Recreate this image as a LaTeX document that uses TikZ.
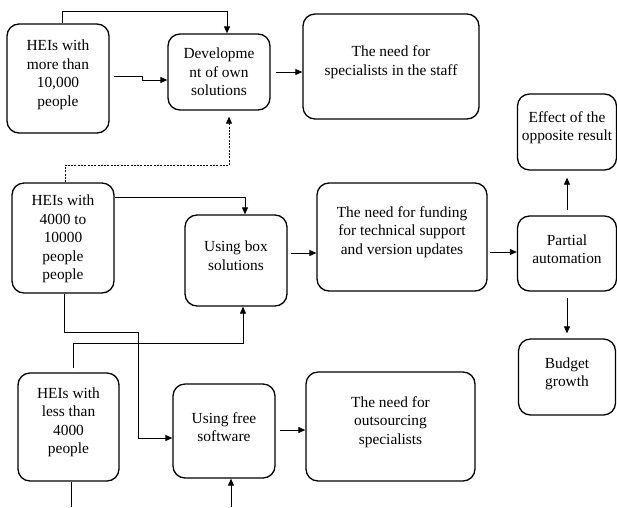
\documentclass[tikz,border=0pt]{standalone}
\usepackage{fontspec}
\setmainfont{Liberation Serif}
\usetikzlibrary{arrows.meta}
\begin{document}
\begin{tikzpicture}[x=1pt,y=-1pt,
  box/.style={draw, line width=1.3pt, rounded corners=12pt, inner sep=0pt},
  txt/.style={align=center, inner sep=0pt, font=\fontsize{15.4}{18.5}\selectfont},
  conn/.style={line width=0.8pt},
  arr/.style={conn, -{Triangle[length=7pt,width=6pt]}},
  dots/.style={arr, dash pattern=on 2pt off 1.3pt}]
\useasboundingbox (0,0) rectangle (617,507);

% boxes
\node[box, minimum width=102pt, minimum height=109pt] (b1) at (58,78.5) {};
\node[box, minimum width=102pt, minimum height=76pt] (b2) at (219,72) {};
\node[box, minimum width=176pt, minimum height=105pt] (b3) at (391,66.5) {};
\node[box, minimum width=99pt, minimum height=76pt] (b4) at (567,132) {};
\node[box, minimum width=102pt, minimum height=110pt] (b5) at (63,238) {};
\node[box, minimum width=102pt, minimum height=91pt] (b6) at (236,260.5) {};
\node[box, minimum width=170pt, minimum height=108pt] (b7) at (402,237) {};
\node[box, minimum width=99pt, minimum height=75pt] (b8) at (567,253.5) {};
\node[box, minimum width=97pt, minimum height=76pt] (b9) at (567,377) {};
\node[box, minimum width=169pt, minimum height=109pt] (b10) at (390.5,426.5) {};
\node[box, minimum width=101pt, minimum height=108pt] (b11) at (68.5,427) {};
\node[box, minimum width=102pt, minimum height=94pt] (b12) at (224,431) {};

% texts
\node[txt] (t1) at ([yshift=3.5pt]b1.center) {HEIs with\\more than\\10,000\\people};
\node[txt] (t2) at (b2.center) {Developme\\nt of own\\solutions};
\node[txt] (t3) at ([yshift=4.5pt]b3.center) {The need for\\specialists in the staff};
\node[txt] (t4) at ([yshift=4.5pt]b4.center) {Effect of the\\opposite result};
\node[txt] (t5) at ([yshift=-1pt]b5.center) {HEIs with\\4000 to\\10000\\people\\people};
\node[txt] (t6) at ([yshift=5pt]b6.center) {Using box\\solutions};
\node[txt] (t7) at ([yshift=5pt]b7.center) {The need for funding\\for technical support\\and version updates};
\node[txt] (t8) at ([yshift=4.5pt]b8.center) {Partial\\automation};
\node[txt] (t9) at ([yshift=3pt]b9.center) {Budget\\growth};
\node[txt] (t10) at ([yshift=4.5pt]b10.center) {The need for\\outsourcing\\specialists};
\node[txt] (t11) at ([yshift=4.5pt]b11.center) {HEIs with\\less than\\4000\\people};
\node[txt] (t12) at ([yshift=4pt]b12.center) {Using free\\software};

% helper points
\coordinate (p6) at ([xshift=3pt,yshift=7.5pt]b6.east);
\coordinate (p7) at ([xshift=2pt,yshift=-15pt]b7.east);
\coordinate (p12) at ([xshift=4pt,yshift=1pt]b12.east);
\coordinate (e1) at (71,507);
\coordinate (e2) at (231,507);

% connectors
\draw[arr] ([xshift=4pt]b1.north) -- ++(0,-12) -| ([xshift=8pt]b2.north);
\draw[arr] ([xshift=4pt,yshift=2.5pt]b1.east) -- ++(29,0) |- ([yshift=-8pt]b2.west);
\draw[arr] ([xshift=5pt]b2.east) -- (b2.east -| b3.west);
\draw[dots] ([xshift=2pt]b5.north) -- ++(0,-17) -| ([xshift=10pt,yshift=-6pt]b2.south);
\draw[arr] ([yshift=41pt]b5.east) -| ([xshift=9pt]b6.north);
\draw[arr] ([xshift=1pt]b5.south) -- ++(0,39) -- ++(74,0) |- ([yshift=-7pt]b12.west);
\draw[arr] ([xshift=4.5pt,yshift=4pt]b11.north) -- ++(0,-25) -| ([xshift=7pt]b6.south);
\draw[arr] (p6) -- (p6 -| b7.west);
\draw[arr] (p7) -- (p7 -| b8.west);
\draw[arr] ([yshift=5pt]b8.north) -- ([yshift=-7pt]b4.south);
\draw[arr] ([yshift=-6pt]b8.south) -- ([yshift=5pt]b9.north);
\draw[arr] (p12) -- (p12 -| b10.west);
\draw[conn] ([xshift=2.5pt]b11.south) -- (e1);
\draw[arr] (e2) -- (e2 |- b12.south);
\end{tikzpicture}
\end{document}
